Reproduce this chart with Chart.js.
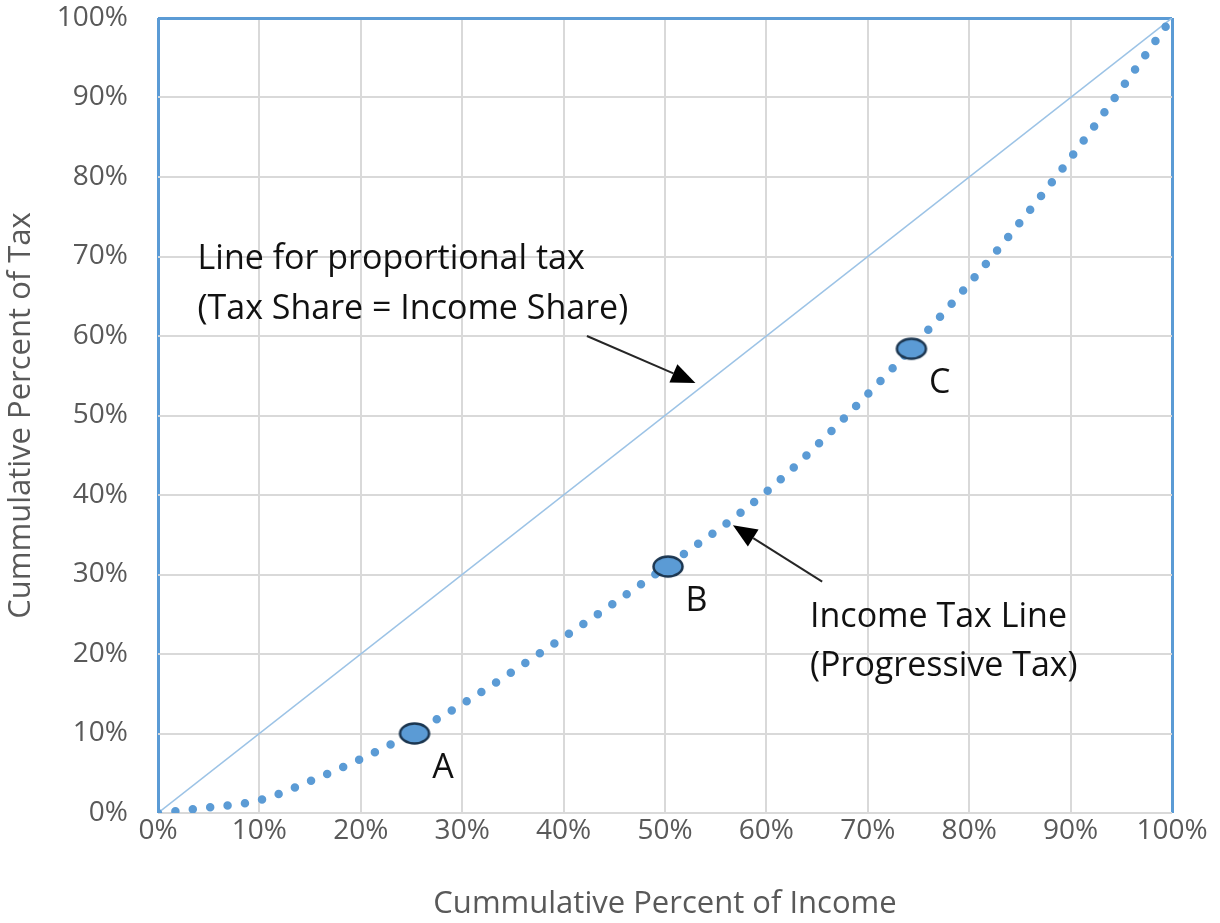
<!DOCTYPE html>
<html>
<head>
<meta charset="utf-8">
<title>Progressive income tax</title>
<script src="https://cdn.jsdelivr.net/npm/chart.js@4.4.1/dist/chart.umd.min.js"></script>
<style>
  html, body { margin: 0; padding: 0; background: #fff; }
  canvas { display: block; }
</style>
</head>
<body>
<canvas id="taxChart" width="1220" height="923"></canvas>
<script>
(function () {
  'use strict';

  // cumulative % of income vs cumulative % of tax
  const incomePct = [0, 5, 10, 15, 20, 25, 30, 40, 50, 60, 70, 80, 90, 100];
  const taxPct = [0, 0.7, 1.6, 4.0, 6.8, 10, 13.7, 22.1, 30.9, 40.4, 52.7, 66.6, 82.4, 100];

  // proportional tax line
  const propX = [0, 100];
  const propY = [0, 100];

  // highlighted points A, B, C
  const markLabels = ['A', 'B', 'C'];
  const markX = [25.3, 50.3, 74.3];
  const markY = [10, 31, 58.4];

  const tickValues = [0, 10, 20, 30, 40, 50, 60, 70, 80, 90, 100];

  const FONT = '"Open Sans", "Noto Sans", sans-serif';
  const BLUE = '#5b9bd5';
  const GRID = '#d9d9d9';

  function toPoints(xs, ys) {
    return xs.map(function (x, i) { return { x: x, y: ys[i] }; });
  }

  // ellipse marker used as point style
  function ellipseMarker() {
    const c = document.createElement('canvas');
    c.width = 34;
    c.height = 25;
    const g = c.getContext('2d');
    g.beginPath();
    g.ellipse(17, 12.5, 14.5, 10, 0, 0, Math.PI * 2);
    g.fillStyle = BLUE;
    g.fill();
    g.lineWidth = 2.5;
    g.strokeStyle = '#1c3650';
    g.stroke();
    return c;
  }

  function arrow(ctx, x1, y1, x2, y2) {
    const ang = Math.atan2(y2 - y1, x2 - x1);
    const len = 24, half = 10;
    const bx = x2 - len * Math.cos(ang), by = y2 - len * Math.sin(ang);
    ctx.beginPath();
    ctx.moveTo(x1, y1);
    ctx.lineTo(bx, by);
    ctx.lineWidth = 2;
    ctx.strokeStyle = '#262626';
    ctx.stroke();
    ctx.beginPath();
    ctx.moveTo(x2, y2);
    ctx.lineTo(bx + half * Math.sin(ang), by - half * Math.cos(ang));
    ctx.lineTo(bx - half * Math.sin(ang), by + half * Math.cos(ang));
    ctx.closePath();
    ctx.fillStyle = '#000';
    ctx.fill();
  }

  const notes = {
    id: 'notes',
    afterDatasetsDraw: function (chart) {
      const ctx = chart.ctx;
      const xs = chart.scales.x, ys = chart.scales.y;
      const px = function (v) { return xs.getPixelForValue(v); };
      const py = function (v) { return ys.getPixelForValue(v); };
      ctx.save();
      ctx.fillStyle = '#111';
      ctx.font = '34px ' + FONT;
      ctx.textBaseline = 'middle';
      ctx.textAlign = 'left';
      ctx.fillText('Line for proportional tax', px(3.9), py(69.6));
      ctx.fillText('(Tax Share = Income Share)', px(3.9), py(63.4));
      ctx.fillText('Income Tax Line', px(64.3), py(24.6));
      ctx.fillText('(Progressive Tax)', px(64.3), py(18.5));

      ctx.textAlign = 'center';
      markLabels.forEach(function (lab, i) {
        ctx.fillText(lab, px(markX[i] + 2.8), py(markY[i] - 4.4));
      });

      arrow(ctx, px(42.3), py(60.0), px(53.0), py(54.1));
      arrow(ctx, px(65.5), py(29.1), px(56.7), py(36.2));
      ctx.restore();
    }
  };

  const marker = ellipseMarker();

  new Chart(document.getElementById('taxChart'), {
    type: 'line',
    data: {
      datasets: [{
        label: 'Points',
        data: toPoints(markX, markY),
        showLine: false,
        pointStyle: marker,
        pointRadius: 14,
      }, {
        label: 'Income Tax Line',
        data: toPoints(incomePct, taxPct),
        borderColor: BLUE,
        borderWidth: 8.5,
        borderDash: [0, 17.5],
        borderCapStyle: 'round',
        cubicInterpolationMode: 'monotone',
        pointRadius: 0,
        fill: false,
      }, {
        label: 'Proportional',
        data: toPoints(propX, propY),
        borderColor: '#9cc3e6',
        borderWidth: 1.5,
        pointRadius: 0,
        fill: false,
      }],
    },
    options: {
      responsive: false,
      animation: false,
      layout: { padding: { top: 18, right: 48, left: 0, bottom: 0 } },
      plugins: { legend: { display: false }, tooltip: { enabled: false } },
      scales: {
        x: {
          type: 'linear',
          min: 0,
          max: 100,
          afterBuildTicks: function (s) { s.ticks = tickValues.map(function (v) { return { value: v }; }); },
          afterFit: function (s) { s.height = 110; s.paddingLeft = 0; s.paddingRight = 0; },
          ticks: {
            padding: 1,
            color: '#595959',
            font: { family: FONT, size: 28 },
            callback: function (v) { return v + '%'; },
          },
          grid: {
            drawTicks: false,
            color: function (c) { return (c.tick && (c.tick.value === 0 || c.tick.value === 100)) ? BLUE : GRID; },
            lineWidth: function (c) { return (c.tick && (c.tick.value === 0 || c.tick.value === 100)) ? 3 : 2; },
          },
          border: { display: false },
          title: {
            display: true,
            text: 'Cummulative Percent of Income',
            color: '#595959',
            font: { family: FONT, size: 31 },
            padding: { top: 0, bottom: 0 },
          },
        },
        y: {
          min: 0,
          max: 100,
          afterBuildTicks: function (s) { s.ticks = tickValues.map(function (v) { return { value: v }; }); },
          afterFit: function (s) { s.width = 158; s.paddingTop = 0; s.paddingBottom = 0; },
          ticks: {
            padding: 30,
            color: '#595959',
            font: { family: FONT, size: 28 },
            callback: function (v) { return v + '%'; },
          },
          grid: {
            drawTicks: false,
            color: function (c) { return (c.tick && c.tick.value === 100) ? BLUE : GRID; },
            lineWidth: function (c) { return (c.tick && c.tick.value === 100) ? 3 : 2; },
          },
          border: { display: false },
          title: {
            display: true,
            text: 'Cummulative Percent of Tax',
            color: '#595959',
            font: { family: FONT, size: 31 },
            padding: { top: 3, bottom: 0 },
          },
        },
      },
    },
    plugins: [notes],
  });
})();
</script>
</body>
</html>
